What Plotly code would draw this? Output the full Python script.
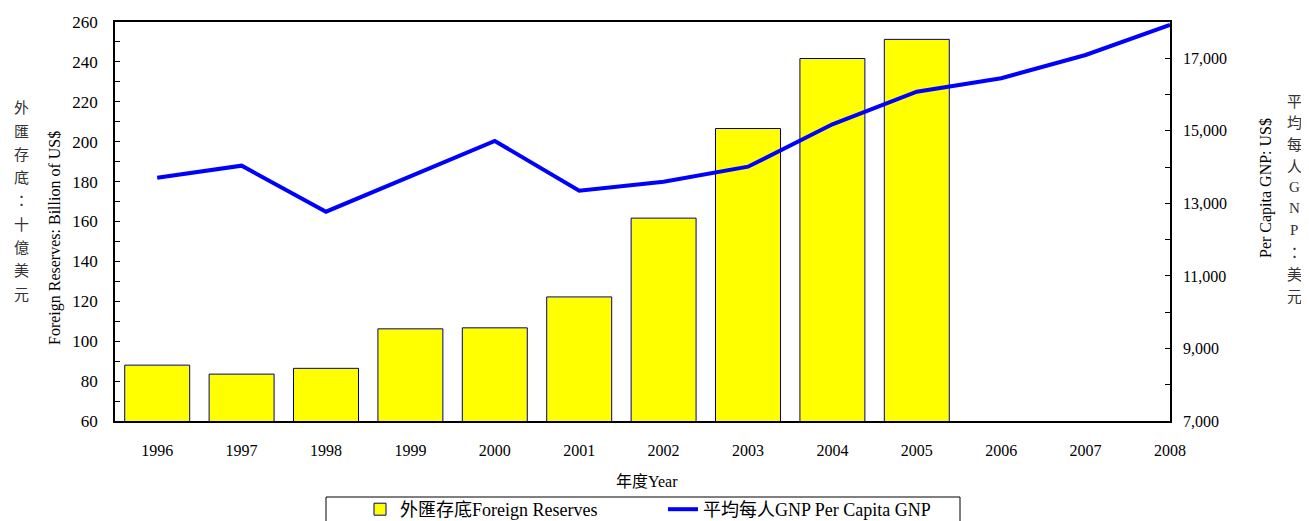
import plotly.graph_objects as go

years = ["1996", "1997", "1998", "1999", "2000", "2001", "2002", "2003", "2004", "2005", "2006", "2007", "2008"]
reserves = [88.0, 83.5, 86.4, 106.2, 106.7, 122.2, 161.7, 206.6, 241.7, 251.3]
gnp_per_capita = [13708, 14039, 12771, 13740, 14720, 13350, 13598, 14011, 15180, 16079, 16449, 17091, 17918]

left_title_cn = list("外匯存底：十億美元")
right_title_cn = list("平均每人GNP：美元")

SERIF = "Liberation Serif, Times New Roman, Noto Sans CJK TC, serif"
CJK = "Noto Sans CJK TC, Noto Sans CJK SC, sans-serif"

# page body has an 8px margin; work in target-screen pixels and shift
OFF = 8
W, H = 1309 - OFF, 521 - OFF
L, R, T, B = 115, 1170, 22, 421  # target screen pixels of plot area


def py(pix):
    return (B - pix) / (B - T)


def px(pix):
    return (pix - L) / (R - L)


fig = go.Figure()
fig.add_trace(go.Bar(
    x=years[:len(reserves)], y=reserves, name="外匯存底Foreign Reserves",
    marker=dict(color="#FFFF00", line=dict(color="#000080", width=1)),
    yaxis="y",
))
fig.add_trace(go.Scatter(
    x=years, y=gnp_per_capita, name="平均每人GNP Per Capita GNP",
    mode="lines", line=dict(color="#0000FF", width=4),
    yaxis="y2",
))

annotations = []
for i, ch in enumerate(left_title_cn):
    annotations.append(dict(
        text=ch, x=px(21), y=py(106.7 + i * 23.3), xref="paper", yref="paper",
        showarrow=False, xanchor="center", yanchor="middle",
        font=dict(family=CJK, size=15, color="#333333"),
    ))
for i, ch in enumerate(right_title_cn):
    annotations.append(dict(
        text=ch, x=px(1294), y=py(100 + i * 21.7), xref="paper", yref="paper",
        showarrow=False, xanchor="center", yanchor="middle",
        font=dict(family=SERIF if ch.isascii() else CJK, size=15, color="#333333"),
    ))
annotations.append(dict(
    text="Foreign Reserves: Billion of US$", textangle=-90,
    x=px(55), y=py(238), xref="paper", yref="paper", showarrow=False,
    xanchor="center", yanchor="middle", font=dict(family=SERIF, size=16, color="black"),
))
annotations.append(dict(
    text="Per Capita GNP: US$", textangle=-90,
    x=px(1266), y=py(188), xref="paper", yref="paper", showarrow=False,
    xanchor="center", yanchor="middle", font=dict(family=SERIF, size=16, color="black"),
))
annotations.append(dict(
    text="年度Year", x=px(647), y=py(481), xref="paper", yref="paper", showarrow=False,
    xanchor="center", yanchor="middle", font=dict(family=SERIF, size=16, color="black"),
))

# legend frame (extends past the bottom edge, as in the reference)
shapes = [dict(
    type="rect", xref="paper", yref="paper",
    x0=px(326), x1=px(960), y0=py(497), y1=py(545),
    line=dict(color="black", width=1), fillcolor="rgba(0,0,0,0)",
)]

fig.update_layout(
    width=W, height=H,
    margin=dict(l=L - OFF, r=W - (R - OFF), t=T - OFF, b=H - (B - OFF), autoexpand=False),
    paper_bgcolor="white", plot_bgcolor="white",
    bargap=0.23,
    showlegend=True,
    legend=dict(
        orientation="h", x=px(360), xanchor="left", y=py(491), yanchor="top",
        borderwidth=0, bgcolor="rgba(0,0,0,0)",
        font=dict(family=SERIF, size=18, color="black"),
        entrywidth=258, entrywidthmode="pixels",
    ),
    xaxis=dict(
        type="category", categoryorder="array", categoryarray=years,
        showline=True, linecolor="black", linewidth=1.5, mirror=True,
        ticks="", ticklabelstandoff=14, showgrid=False,
        tickfont=dict(family=SERIF, size=16, color="black"),
    ),
    yaxis=dict(
        range=[60, 260], tickmode="linear", tick0=60, dtick=20,
        showline=True, linecolor="black", linewidth=1.5,
        ticks="inside", ticklen=5, tickcolor="black",
        minor=dict(ticks="inside", dtick=10, ticklen=5, tickcolor="black"),
        showgrid=False, zeroline=False, ticklabelstandoff=12,
        tickfont=dict(family=SERIF, size=17, color="black"),
    ),
    yaxis2=dict(
        range=[7000, 18000], overlaying="y", side="right",
        tickvals=[7000, 9000, 11000, 13000, 15000, 17000],
        tickformat=",d",
        showline=True, linecolor="black", linewidth=1.5,
        ticks="inside", ticklen=5, tickcolor="black",
        minor=dict(ticks="inside", tickvals=[8000, 10000, 12000, 14000, 16000, 18000], ticklen=5, tickcolor="black"),
        showgrid=False, zeroline=False, ticklabelstandoff=8,
        tickfont=dict(family=SERIF, size=16, color="black"),
    ),
    annotations=annotations,
    shapes=shapes,
)

fig.write_html("out.html")
